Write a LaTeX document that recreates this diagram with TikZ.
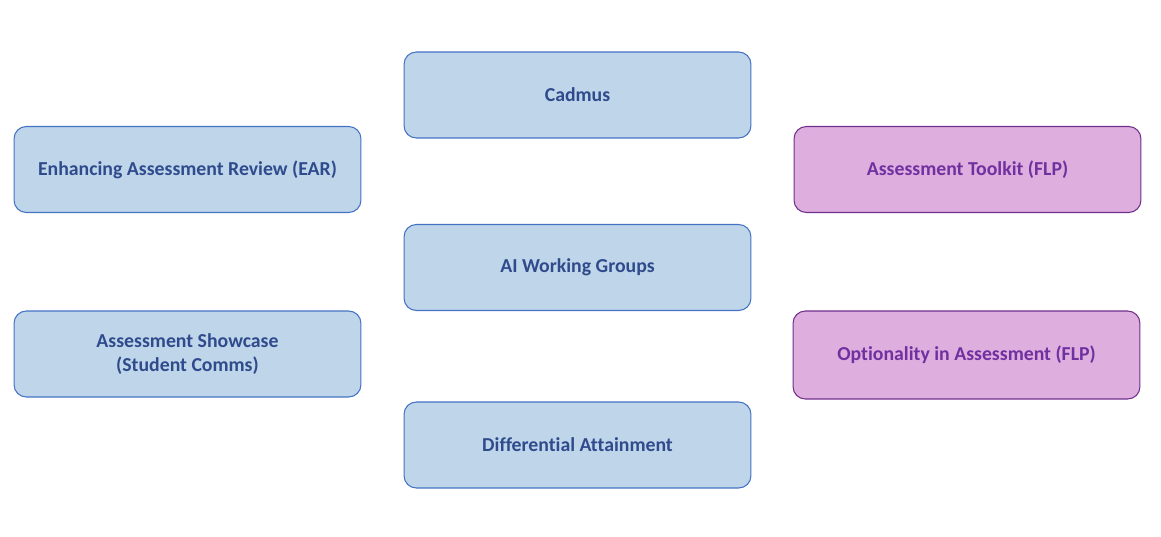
\documentclass[tikz,border=0pt]{standalone}
\usepackage{fontspec}
\setmainfont[Ligatures={NoCommon}]{Carlito}
\usepackage{xcolor}
\definecolor{boxblue}{RGB}{190,213,234}
\definecolor{edgeblue}{RGB}{68,114,196}
\definecolor{textblue}{RGB}{47,75,140}
\definecolor{boxpurple}{RGB}{222,174,222}
\definecolor{edgepurple}{RGB}{112,48,140}
\definecolor{textpurple}{RGB}{112,48,160}
\usetikzlibrary{positioning}

\tikzset{
  workbox/.style={draw=edgeblue, fill=boxblue, text=textblue, line width=0.6pt,
    rounded corners=7pt, font=\fontsize{11.25}{13.8}\selectfont\bfseries, align=center,
    minimum width=6.94cm, minimum height=1.72cm, inner sep=0pt, outer sep=0pt},
  flpbox/.style={workbox, draw=edgepurple, fill=boxpurple, text=textpurple}
}

\begin{document}
\begin{tikzpicture}[x=0.02cm, y=-0.02cm]
  \useasboundingbox (0,0) rectangle (1161,537);
  % Middle column
  \node[workbox] (cadmus) at (577.5,95) {Cadmus};
  \node[workbox] (aiwg) at (577.5,267.5) {AI Working Groups};
  \node[workbox] (diffatt) at (577.5,445) {Differential Attainment};
  % Left column
  \node[workbox] (ear) at (187.5,169.5) {Enhancing Assessment Review (EAR)};
  \node[workbox] (showcase) at (187.5,354) {Assessment Showcase\\(Student Comms)};
  % Right column (FLP)
  \node[flpbox] (toolkit) at (967.5,169.5) {Assessment Toolkit (FLP)};
  \node[flpbox, minimum height=1.76cm] (option) at (966.5,355) {Optionality in Assessment (FLP)};
\end{tikzpicture}
\end{document}
